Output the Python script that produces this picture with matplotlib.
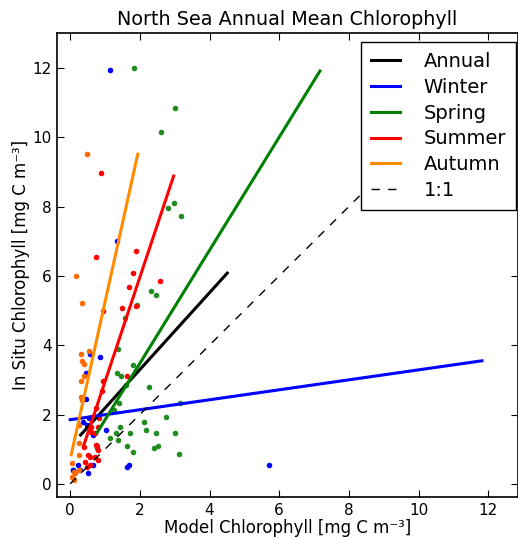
import numpy as np
import matplotlib
matplotlib.use("Agg")
import matplotlib.pyplot as plt

# scatter points per season (model, in situ)
winter_x = [1.15, 1.35, 0.57, 0.87, 0.44, 0.45, 1.02, 0.53, 0.38, 0.48, 0.66,
            0.66, 0.50, 0.23, 0.09, 0.28, 0.08, 1.63, 1.68, 5.71]
winter_y = [11.93, 7.02, 3.74, 3.66, 3.21, 2.45, 1.55, 1.89, 1.79, 1.70, 1.41,
            0.54, 0.32, 0.54, 0.40, 0.40, 0.40, 0.49, 0.54, 0.54]

spring_x = [1.82, 3.02, 2.62, 2.97, 2.80, 3.19, 2.32, 2.45, 1.57, 1.92, 1.38,
            1.81, 1.33, 1.46, 1.60, 2.25, 1.39, 1.26, 3.15, 2.75, 2.13, 1.43,
            1.32, 2.18, 1.73, 2.47, 3.02, 1.15, 1.37, 1.63, 1.80, 2.40, 2.52,
            3.12, 0.77]
spring_y = [12.00, 10.84, 10.15, 8.11, 7.96, 7.73, 5.55, 5.45, 4.78, 5.16, 3.88,
            3.43, 3.21, 3.11, 2.85, 2.80, 2.34, 2.13, 2.34, 1.94, 1.79, 1.65,
            1.47, 1.55, 1.47, 1.47, 1.47, 1.33, 1.26, 1.10, 0.92, 1.02, 1.09,
            0.86, 1.02]

summer_x = [0.88, 1.90, 0.75, 1.81, 1.68, 2.57, 1.50, 1.88, 0.93, 1.64, 0.93,
            0.91, 0.74, 0.82, 0.79, 0.60, 0.60, 0.72, 0.77, 0.73, 0.81, 0.41,
            0.51, 0.58, 0.72, 0.80, 0.43, 0.58, 0.48]
summer_y = [8.97, 6.72, 6.55, 6.09, 5.69, 5.86, 5.07, 5.12, 5.00, 3.11, 2.97,
            2.69, 2.18, 1.89, 1.65, 1.65, 1.50, 1.46, 1.09, 1.12, 0.97, 1.07,
            0.83, 0.78, 0.78, 0.70, 0.64, 0.54, 0.49]

autumn_x = [0.48, 0.16, 0.35, 0.30, 0.53, 0.35, 0.39, 0.39, 0.30, 0.30, 0.34,
            0.25, 0.25, 0.26, 0.24, 0.10, 0.14, 0.05, 0.12, 0.06]
autumn_y = [9.52, 6.00, 5.23, 3.75, 3.82, 3.53, 3.46, 3.11, 2.97, 2.50, 2.42,
            1.70, 1.17, 0.83, 0.40, 0.35, 0.30, 0.20, 0.10, 0.60]

# regression lines: start / end points
fit_names = ["Annual", "Winter", "Spring", "Summer", "Autumn"]
fit_x0 = [0.30, 0.00, 0.77, 0.38, 0.03]
fit_x1 = [4.51, 11.82, 7.17, 2.97, 1.94]
fit_y0 = [1.41, 1.85, 1.47, 1.08, 0.84]
fit_y1 = [6.08, 3.55, 11.91, 8.88, 9.51]
fit_colors = ["k", "b", "g", "r", "darkorange"]

one_x = [0, 13]
one_y = [0, 13]

fig = plt.figure(figsize=(5.18, 5.38), dpi=100)
fig.patch.set_facecolor("white")
ax = fig.add_axes([0.1106, 0.0762, 0.889, 0.862])

pts = [(winter_x, winter_y, "#0000ff"),
       (spring_x, spring_y, "#228b22"),
       (summer_x, summer_y, "#ff0000"),
       (autumn_x, autumn_y, "#ff6a00")]
for xs, ys, c in pts:
    ax.plot(xs, ys, "o", color=c, markersize=4, markeredgewidth=0, zorder=2)

for i in range(len(fit_names)):
    ax.plot([fit_x0[i], fit_x1[i]], [fit_y0[i], fit_y1[i]], "-",
            color=fit_colors[i], lw=2.2, label=fit_names[i], zorder=3)
ax.plot(one_x, one_y, "k--", lw=1.0, dashes=(6, 6), label="1:1", zorder=3)

ax.set_xlim(-0.37, 12.85)
ax.set_ylim(-0.38, 13.0)
ax.set_xticks(np.arange(0, 13, 2))
ax.set_yticks(np.arange(0, 13, 2))
ax.tick_params(direction="in", length=5, width=0.8, top=True, right=True,
               labelsize=11, pad=4)
for s in ax.spines.values():
    s.set_linewidth(1.2)

ax.set_title("North Sea Annual Mean Chlorophyll", fontsize=13.8, pad=6)
ax.set_xlabel("Model Chlorophyll [mg C m\u207b\u00b3]", fontsize=12, labelpad=1)
ax.set_ylabel("In Situ Chlorophyll [mg C m\u207b\u00b3]", fontsize=12, labelpad=2)

leg = ax.legend(loc="upper right", bbox_to_anchor=(515.7 / 518, 1 - 42.3 / 538),
                bbox_transform=fig.transFigure, borderaxespad=0, fontsize=14,
                fancybox=False, framealpha=1, handlelength=1.5,
                handletextpad=1.2, labelspacing=0.35, borderpad=0.5)
leg.get_frame().set_edgecolor("black")
leg.get_frame().set_linewidth(1.0)

fig.savefig("out.png", dpi=100, facecolor="white")
